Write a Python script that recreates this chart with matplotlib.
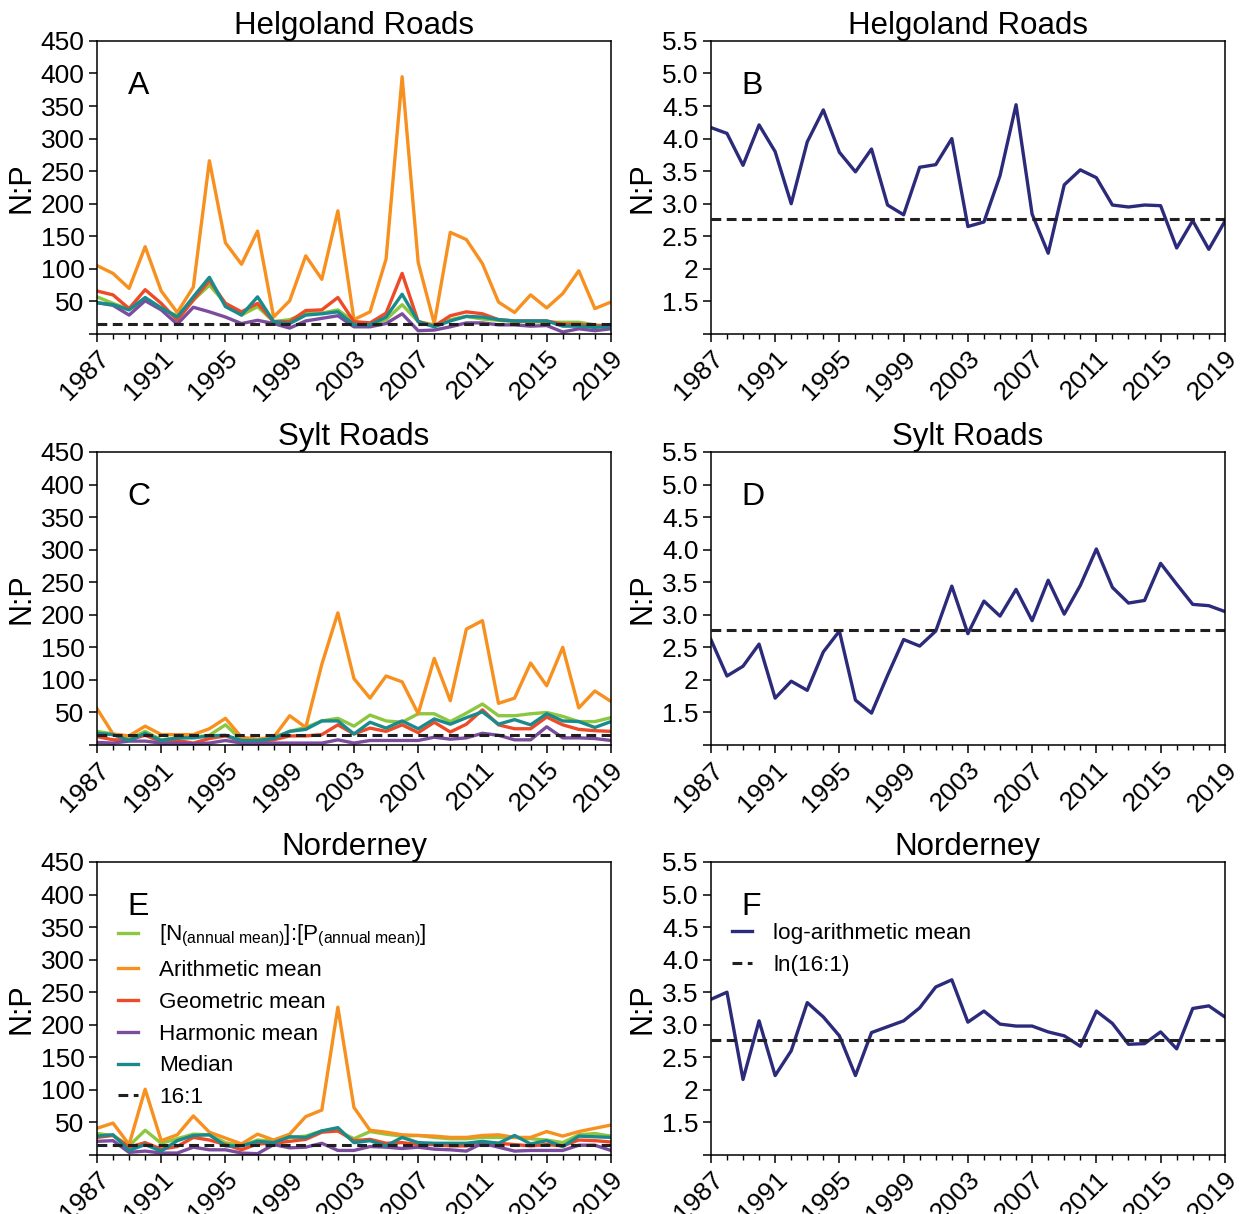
import numpy as np
import matplotlib
matplotlib.use('Agg')
import matplotlib.pyplot as plt
from matplotlib.ticker import MultipleLocator

plt.rcParams['font.family'] = ['Liberation Sans', 'DejaVu Sans']
plt.rcParams['mathtext.fontset'] = 'custom'
plt.rcParams['mathtext.rm'] = 'Liberation Sans'
plt.rcParams['mathtext.it'] = 'Liberation Sans'

years = list(range(1987, 2020))

# Helgoland Roads
hel_annual = [57, 47, 38, 52, 39, 28, 52, 75, 47, 29, 42, 19, 22, 32, 32, 37, 19, 14, 22, 45, 19, 14, 22, 27, 23, 21, 19, 19, 18, 18, 18, 14, 12]
hel_arith = [105, 93, 70, 134, 66, 33, 72, 266, 140, 107, 158, 26, 51, 120, 84, 189, 22, 34, 115, 395, 110, 16, 156, 145, 108, 49, 33, 60, 40, 62, 97, 39, 49]
hel_geom = [66, 60, 39, 68, 47, 21, 52, 82, 47, 34, 47, 19, 19, 36, 37, 56, 19, 17, 32, 93, 19, 12, 28, 34, 31, 22, 20, 20, 20, 15, 15, 12, 14]
hel_harm = [48, 44, 29, 51, 37, 15, 41, 34, 26, 16, 21, 16, 9, 20, 24, 28, 11, 11, 16, 31, 5, 6, 11, 17, 17, 14, 14, 12, 13, 3, 8, 5, 8]
hel_median = [48, 45, 37, 56, 40, 26, 57, 87, 42, 29, 57, 19, 16, 29, 31, 34, 14, 14, 26, 61, 19, 11, 20, 27, 26, 22, 20, 20, 20, 12, 12, 10, 12]
hel_log = [4.17, 4.08, 3.59, 4.21, 3.80, 3.00, 3.95, 4.44, 3.79, 3.49, 3.84, 2.98, 2.83, 3.56, 3.60, 4.00, 2.65, 2.72, 3.43, 4.52, 2.84, 2.24, 3.29, 3.52, 3.40, 2.98, 2.95, 2.98, 2.97, 2.32, 2.74, 2.30, 2.73]

# Sylt Roads
syl_annual = [21, 17, 9, 21, 8, 11, 12, 15, 31, 8, 8, 12, 21, 27, 37, 41, 29, 46, 37, 35, 48, 48, 36, 49, 63, 45, 45, 48, 50, 44, 36, 36, 42]
syl_arith = [56, 17, 14, 29, 16, 16, 16, 25, 41, 12, 9, 12, 45, 27, 124, 203, 102, 72, 106, 97, 48, 133, 68, 178, 191, 64, 72, 126, 91, 150, 57, 83, 67]
syl_geom = [13, 8, 8, 15, 5, 7, 3, 10, 14, 6, 6, 8, 14, 14, 16, 31, 17, 26, 21, 31, 19, 35, 20, 32, 54, 31, 25, 25, 43, 31, 24, 22, 21]
syl_harm = [4, 3, 6, 6, 3, 3, 2, 3, 7, 3, 3, 3, 3, 3, 3, 8, 3, 7, 7, 7, 7, 12, 9, 11, 18, 15, 8, 8, 28, 11, 11, 10, 7]
syl_median = [18, 16, 7, 18, 7, 11, 11, 14, 15, 7, 7, 10, 21, 24, 37, 37, 17, 35, 26, 37, 25, 40, 32, 42, 51, 32, 39, 31, 48, 37, 36, 27, 36]
syl_log = [2.62, 2.06, 2.21, 2.55, 1.72, 1.98, 1.84, 2.43, 2.75, 1.69, 1.49, 2.07, 2.62, 2.52, 2.75, 3.44, 2.71, 3.21, 2.98, 3.39, 2.91, 3.53, 3.01, 3.45, 4.01, 3.42, 3.18, 3.22, 3.79, 3.47, 3.16, 3.14, 3.05]

# Norderney
nor_annual = [33, 30, 14, 38, 18, 25, 32, 31, 19, 14, 23, 21, 27, 29, 37, 37, 25, 36, 32, 29, 30, 27, 25, 25, 27, 27, 27, 25, 23, 19, 31, 33, 29]
nor_arith = [41, 49, 16, 101, 22, 31, 60, 35, 26, 17, 32, 23, 32, 59, 69, 227, 73, 38, 35, 31, 30, 29, 27, 27, 30, 31, 27, 27, 36, 29, 36, 41, 46]
nor_geom = [27, 30, 12, 19, 9, 13, 27, 23, 16, 8, 17, 18, 21, 24, 35, 37, 22, 24, 18, 19, 16, 16, 14, 14, 18, 18, 16, 14, 16, 14, 23, 22, 20]
nor_harm = [21, 22, 4, 6, 3, 3, 12, 8, 8, 3, 2, 16, 11, 12, 18, 7, 7, 13, 12, 10, 12, 9, 8, 6, 18, 12, 6, 7, 7, 7, 15, 15, 7]
nor_median = [29, 31, 7, 16, 6, 22, 30, 31, 14, 14, 21, 19, 28, 27, 37, 42, 19, 22, 14, 27, 19, 18, 18, 18, 21, 18, 30, 17, 22, 13, 29, 28, 27]
nor_log = [3.39, 3.50, 2.16, 3.06, 2.22, 2.60, 3.34, 3.12, 2.83, 2.22, 2.88, 2.97, 3.06, 3.26, 3.58, 3.69, 3.04, 3.21, 3.01, 2.98, 2.98, 2.89, 2.83, 2.67, 3.21, 3.02, 2.70, 2.71, 2.89, 2.63, 3.25, 3.29, 3.12]

stations = ['Helgoland Roads', 'Sylt Roads', 'Norderney']
ratio_series = [
    [hel_annual, hel_arith, hel_geom, hel_harm, hel_median],
    [syl_annual, syl_arith, syl_geom, syl_harm, syl_median],
    [nor_annual, nor_arith, nor_geom, nor_harm, nor_median],
]
log_series = [hel_log, syl_log, nor_log]
series_names = [r'[N$_{\mathrm{(annual\ mean)}}$]:[P$_{\mathrm{(annual\ mean)}}$]',
                'Arithmetic mean', 'Geometric mean', 'Harmonic mean', 'Median']
series_colors = ['#8dc63f', '#f7901e', '#ef4a27', '#7c4d9f', '#1a8b8d']
letters_left = ['A', 'C', 'E']
letters_right = ['B', 'D', 'F']

redfield = 16
lw = 2.4
tick_fs = 19
year_ticks = list(range(1987, 2020, 4))

fig = plt.figure(figsize=(12.56, 12.14), dpi=100)
bottoms = [0.7249, 0.3863, 0.0486]
h = 0.2414
w = 0.4092


def style_axis(ax):
    ax.set_xlim(1987, 2019)
    ax.set_xticks(year_ticks)
    ax.set_xticklabels([str(y) for y in year_ticks], rotation=45, ha='right',
                       rotation_mode='anchor')
    ax.xaxis.set_minor_locator(MultipleLocator(1))
    ax.tick_params(axis='both', which='major', labelsize=tick_fs, length=6, width=1.1,
                   direction='out', pad=3)
    ax.tick_params(axis='both', which='minor', length=3.5, width=1.0, direction='out')
    for s in ax.spines.values():
        s.set_linewidth(1.1)


def add_legend(ax):
    ax.legend(loc='upper left', bbox_to_anchor=(0.01, 0.845), frameon=False, fontsize=16.2,
              handlelength=0.9, handletextpad=0.95, labelspacing=0.48, borderaxespad=0.3)


for i in range(3):
    ax = fig.add_axes([0.0772, bottoms[i], w, h])
    for vals, name, col in zip(ratio_series[i], series_names, series_colors):
        ax.plot(years, vals, color=col, lw=lw, label=name)
    ax.axhline(redfield, color='#231f20', lw=2.2, ls=(0, (3.2, 1.8)), label='16:1')
    ax.set_ylim(0, 450)
    ax.set_yticks(range(0, 451, 50))
    ax.set_yticklabels([''] + [str(v) for v in range(50, 451, 50)])
    ax.set_ylabel('N:P', fontsize=22, labelpad=3)
    ax.set_title(stations[i], fontsize=22.5, pad=4)
    ax.text(0.06, 0.82, letters_left[i], transform=ax.transAxes, fontsize=23)
    style_axis(ax)
    if i == 2:
        add_legend(ax)

    axr = fig.add_axes([0.566, bottoms[i], w, h])
    axr.plot(years, log_series[i], color='#2b2a7b', lw=lw, label='log-arithmetic mean')
    axr.axhline(np.log(redfield), color='#231f20', lw=2.2, ls=(0, (3.2, 1.8)), label='ln(16:1)')
    axr.set_ylim(1, 5.5)
    axr.set_yticks([1, 1.5, 2, 2.5, 3, 3.5, 4, 4.5, 5, 5.5])
    axr.set_yticklabels(['', '1.5', '2', '2.5', '3.0', '3.5', '4.0', '4.5', '5.0', '5.5'])
    axr.set_ylabel('N:P', fontsize=22, labelpad=3)
    axr.set_title(stations[i], fontsize=22.5, pad=4)
    axr.text(0.06, 0.82, letters_right[i], transform=axr.transAxes, fontsize=23)
    style_axis(axr)
    if i == 2:
        add_legend(axr)

fig.savefig('out.png', dpi=100)
